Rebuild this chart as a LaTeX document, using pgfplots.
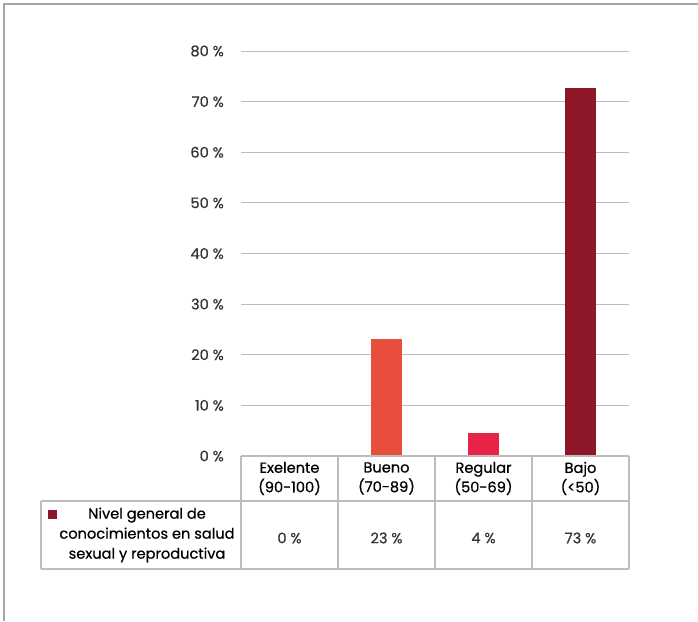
\documentclass[border=0pt]{standalone}
\usepackage{fontspec}
\setmainfont{Poppins}[FakeBold=0.6]
\usepackage{pgfplots}
\pgfplotsset{compat=1.18}

\definecolor{bueno}{HTML}{E74E3C}
\definecolor{regular}{HTML}{E72348}
\definecolor{bajo}{HTML}{8D1729}
\definecolor{txt}{HTML}{333333}
\definecolor{gridc}{HTML}{BDBDBD}
\definecolor{framec}{HTML}{A6A6A6}

\begin{document}
\begin{tikzpicture}[x=1pt,y=1pt,font=\fontsize{14.6}{17}\selectfont\color{txt}]
  \useasboundingbox (0,0) rectangle (698,621);
  % outer frame (top and left only)
  \draw[framec, line width=1.3pt] (4,0) -- (4,617) -- (698,617);

  \begin{axis}[
    at={(241pt,165pt)}, anchor=south west,
    scale only axis, width=388pt, height=405pt,
    xmin=-0.5, xmax=3.5, ymin=0, ymax=80,
    ybar, bar width=31pt, bar shift=0pt,
    axis line style={draw=none},
    major tick length=0pt,
    xtick=\empty,
    ytick={0,10,20,30,40,50,60,70,80},
    yticklabels={0 \%,10 \%,20 \%,30 \%,40 \%,50 \%,60 \%,70 \%,80 \%},
    yticklabel style={anchor=east, inner sep=0pt, xshift=-17pt, font=\fontsize{14.6}{17}\selectfont, text=txt},
    ymajorgrids,
    grid style={gridc, line width=1pt},
    clip=false,
  ]
    \addplot[fill=bueno, draw=none] coordinates {(0,0)};
    \addplot[fill=bueno, draw=none] coordinates {(1,23.1)};
    \addplot[fill=regular, draw=none] coordinates {(2,4.5)};
    \addplot[fill=bajo, draw=none] coordinates {(3,72.7)};
  \end{axis}

  % data table
  \begin{scope}[gridc, line width=1.2pt]
    \draw (241,165) -- (629,165);
    \draw (41,120) -- (629,120);
    \draw (41,52) -- (629,52);
    \draw (41,52) -- (41,120);
    \foreach \x in {241,338,435,532,629} \draw (\x,52) -- (\x,165);
  \end{scope}

  \node[align=center, font=\fontsize{14.6}{19.5}\selectfont] at (289.5,142.5) {Exelente\\(90-100)};
  \node[align=center, font=\fontsize{14.6}{19.5}\selectfont] at (386.5,142.5) {Bueno\\(70-89)};
  \node[align=center, font=\fontsize{14.6}{19.5}\selectfont] at (483.5,142.5) {Regular\\(50-69)};
  \node[align=center, font=\fontsize{14.6}{19.5}\selectfont] at (580.5,142.5) {Bajo\\(<50)};

  \fill[bajo] (48,102) rectangle (57,111);
  \node[align=center, font=\fontsize{14.6}{20}\selectfont] at (147,86) {Nivel general de\\conocimientos en salud\\sexual y reproductiva};

  \node at (289.5,83) {0 \%};
  \node at (386.5,83) {23 \%};
  \node at (483.5,83) {4 \%};
  \node at (580.5,83) {73 \%};
\end{tikzpicture}
\end{document}
